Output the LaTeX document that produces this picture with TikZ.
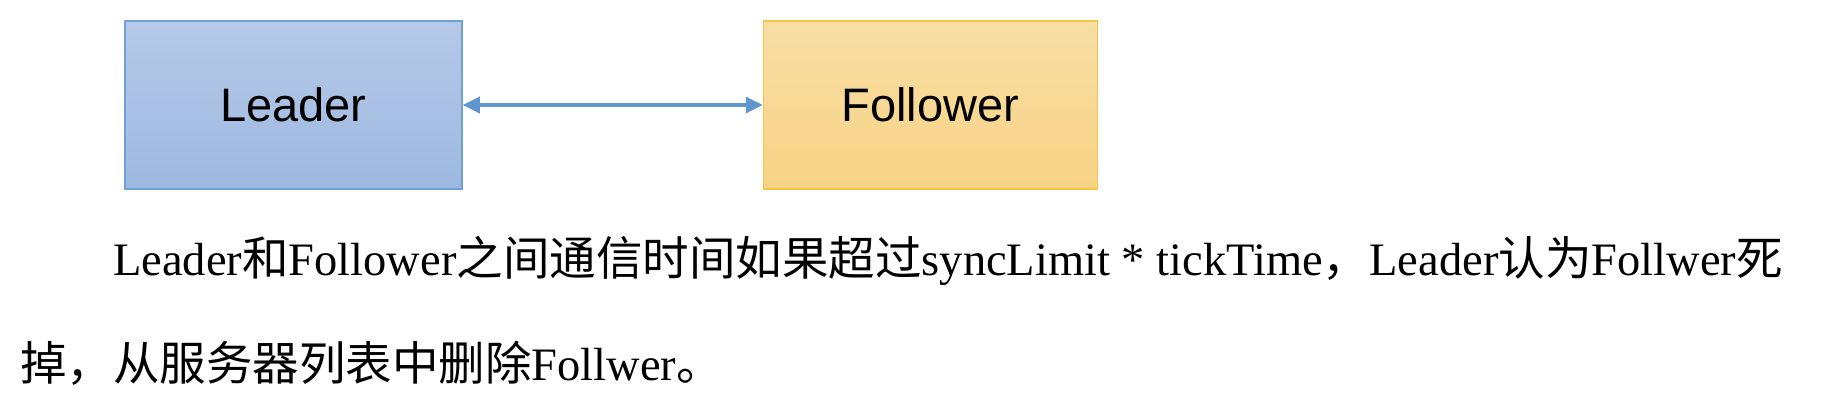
\documentclass[tikz,border=0pt]{standalone}
\usepackage{fontspec}
\setmainfont{Liberation Serif}
\setsansfont{Liberation Sans}
\newfontfamily\cjk{Noto Sans CJK SC}
\usetikzlibrary{arrows.meta,positioning}
\definecolor{leadtop}{RGB}{182,201,232}
\definecolor{leadbot}{RGB}{157,185,224}
\definecolor{leadline}{RGB}{112,160,216}
\definecolor{folltop}{RGB}{248,222,164}
\definecolor{follbot}{RGB}{247,211,133}
\definecolor{follline}{RGB}{246,196,72}
\definecolor{arrblue}{RGB}{96,150,206}
\tikzset{
  rolebox/.style={rectangle,line width=1.5pt,inner sep=0pt,minimum width=337pt,minimum height=168pt,font=\sffamily\fontsize{47}{56}\selectfont},
  leadbox/.style={rolebox,draw=leadline,top color=leadtop,bottom color=leadbot},
  follbox/.style={rolebox,draw=follline,top color=folltop,bottom color=follbot,minimum width=334pt},
  syncarr/.style={{Triangle[length=17pt,width=16pt]}-{Triangle[length=17pt,width=16pt]},line width=3.5pt,color=arrblue},
  bodytext/.style={anchor=base west,inner sep=0pt,font=\fontsize{46.5}{105}\selectfont}
}
\newcommand{\zh}[1]{{\cjk #1}}

\begin{document}
\begin{tikzpicture}[x=1pt,y=-1pt]
  \useasboundingbox (0,0) rectangle (1828,418);
  \node[leadbox] (leader) at (293.5,105) {Leader};
  \node[follbox,right=300pt of leader] (follower) {Follower};
  \draw[syncarr] (leader) -- (follower);

  \node[bodytext] (line1) at (113,275) {Leader\zh{和}Follower\zh{之间通信时间如果超过}syncLimit * tickTime\zh{，}Leader\zh{认为}Follwer\zh{死}};
  \node[bodytext] (line2) at (20,380) {\zh{掉，从服务器列表中删除}Follwer\zh{。}};
\end{tikzpicture}
\end{document}
